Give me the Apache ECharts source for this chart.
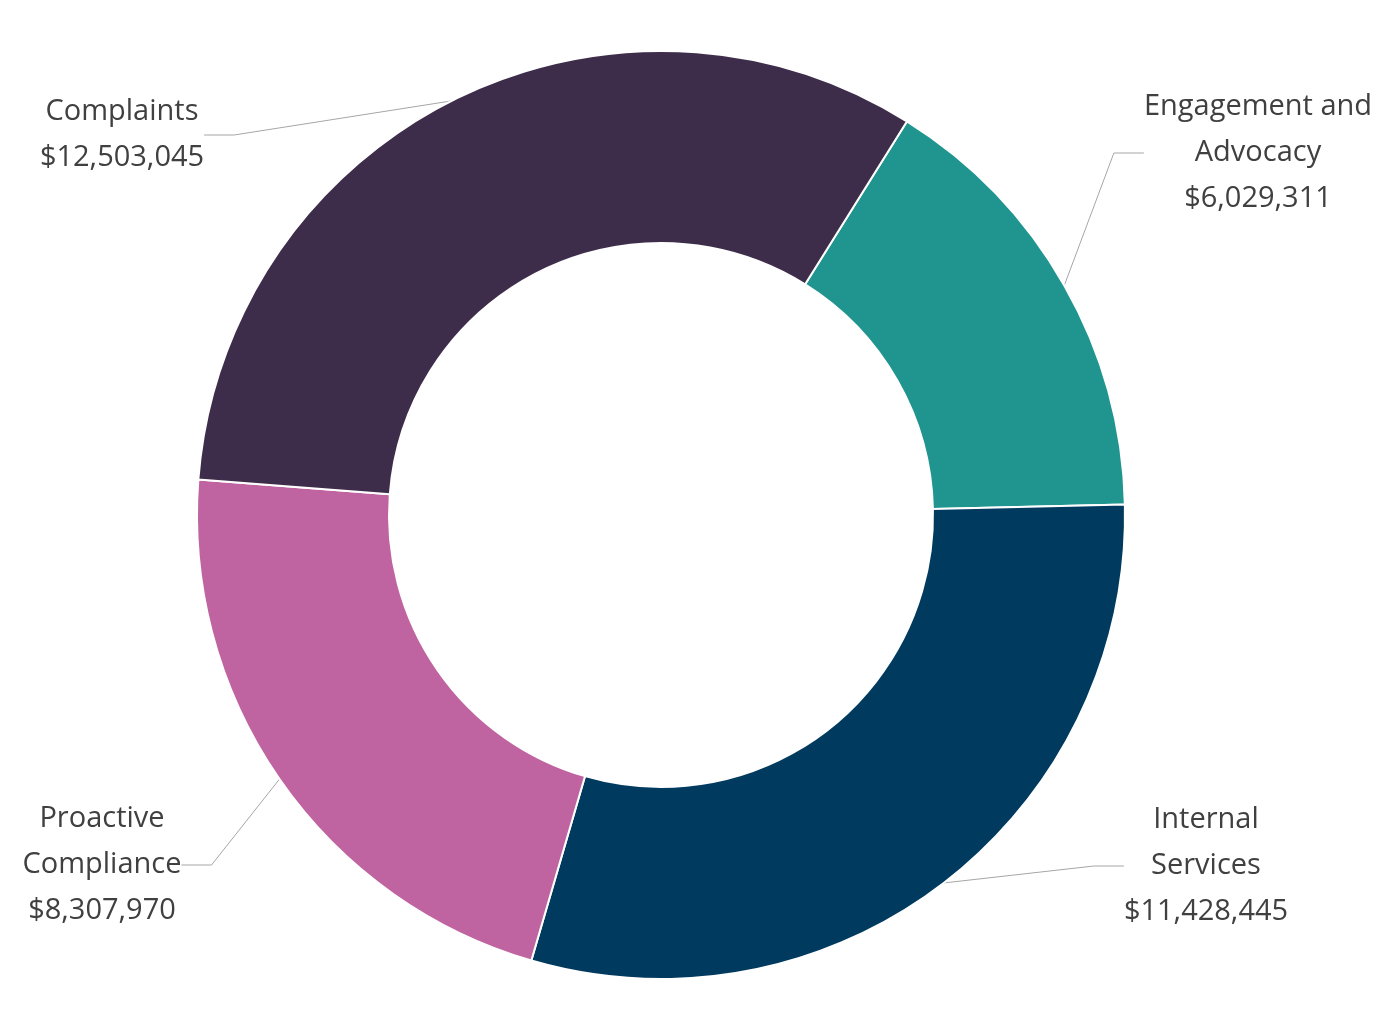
<!DOCTYPE html>
<html lang="en">
<head>
  <meta charset="UTF-8">
  <title>Budget</title>
  <style>
    html, body { margin: 0; height: 100%; width: 100%; background: #fff; }
  </style>
</head>
<body>
  <div id="chart" style="width:1400px;height:1022px"></div>
  <script src="https://cdn.jsdelivr.net/npm/echarts@6/dist/echarts.min.js"></script>
  <script>
    const names = ['Engagement and\nAdvocacy', 'Internal\nServices', 'Proactive\nCompliance', 'Complaints']
    const values = [6029311, 11428445, 8307970, 12503045]
    const colors = ['#20948f', '#003a5f', '#bf64a0', '#3e2d4a']
    // where each label sits (centre of text block)
    const labelSpots = [[1258, 153], [1206, 866], [102, 865], [122, 135]]

    const fmt = v => '$' + v.toLocaleString('en-US')

    const option = {
      series: [{
        type: 'pie',
        center: [661, 515],
        radius: [272, 464],
        startAngle: 58,
        clockwise: true,
        avoidLabelOverlap: false,
        itemStyle: { borderColor: '#fff', borderWidth: 2 },
        label: {
          show: true,
          formatter: p => p.name + '\n' + fmt(p.value),
          fontFamily: 'Open Sans',
          fontSize: 29,
          lineHeight: 46,
          color: '#404040',
          align: 'center'
        },
        labelLine: {
          show: true,
          length: 30,
          length2: 30,
          lineStyle: { color: '#a6a6a6', width: 1 }
        },
        labelLayout: function (params) {
          const s = labelSpots[params.dataIndex]
          return { x: s[0], y: s[1], align: 'center', verticalAlign: 'middle' }
        },
        data: values.map((v, i) => ({
          name: names[i],
          value: v,
          itemStyle: { color: colors[i] }
        }))
      }]
    }
    const myChart = echarts.init(document.getElementById('chart'))
    myChart.setOption(option)
  </script>
</body>
</html>
